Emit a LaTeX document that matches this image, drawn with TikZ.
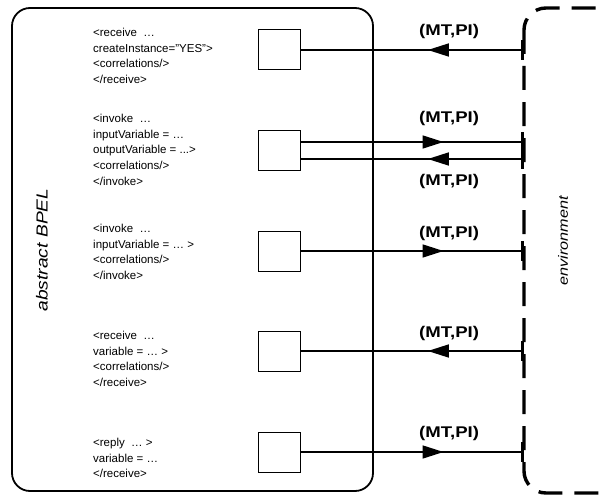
\documentclass[tikz,border=0pt]{standalone}
\usepackage{fontspec}
\setmainfont{Liberation Sans}
\newfontfamily\widefont[FakeStretch=1.2]{Liberation Sans}
\usetikzlibrary{arrows.meta, decorations.markings, positioning}
\newcommand{\codefont}{\fontsize{11.5}{15.75}\selectfont}
\newcommand{\tagfont}{\widefont\bfseries\fontsize{15.5}{16}\selectfont}

\begin{document}
\begin{tikzpicture}[x=1pt, y=-1pt,
    msgtip/.tip={Triangle[length=21pt,width=13pt]},
    codeblock/.style={anchor=north west, inner sep=0pt, align=left, font=\codefont},
    activity/.style={draw, line width=0.8pt, minimum width=42pt, minimum height=40pt, inner sep=0pt},
    msglabel/.style={font=\tagfont, inner sep=0pt},
    msgin/.style={line width=1.6pt, arrows={Bar[width=20pt,line width=3.4pt]-}, postaction={decorate},
      decoration={markings, mark=at position 0.43 with {\arrow{msgtip}}}},
    msgout/.style={line width=1.6pt, arrows={-Bar[width=20pt,line width=3.4pt]}, postaction={decorate},
      decoration={markings, mark=at position 0.64 with {\arrow{msgtip}}}},
    sidelabel/.style={rotate=90, font=\widefont\itshape\fontsize{16}{16}\selectfont}]
  \useasboundingbox (0,0) rectangle (600,495);

  % abstract BPEL process
  \draw[line width=1.8pt, rounded corners=18pt] (12,8) rectangle (373,491);
  \node[sidelabel] (bpel) at (42,250) {abstract BPEL};

  % environment
  \draw[line width=3.4pt, dash pattern=on 24pt off 12pt, rounded corners=22pt] (524,8) rectangle (640,493);
  \node[sidelabel, font=\widefont\itshape\fontsize{13.5}{14}\selectfont] (envtext) at (563,241) {environment};

  % activities
  \node[codeblock] (code1) at (93,27.8) {<receive\ \ …\\createInstance="YES">\\<correlations/>\\</receive>};
  \node[codeblock] (code2) at (93,113.8) {<invoke\ \ …\\inputVariable = …\\outputVariable = ...>\\<correlations/>\\</invoke>};
  \node[codeblock] (code3) at (93,223.8) {<invoke\ \ …\\inputVariable = … >\\<correlations/>\\</invoke>};
  \node[codeblock] (code4) at (93,330.8) {<receive\ \ …\\variable = … >\\<correlations/>\\</receive>};
  \node[codeblock] (code5) at (93,437.8) {<reply\ \ … >\\variable = …\\</receive>};

  \node[activity] (act1) at (279,49.5) {};
  \node[activity] (act2) at (279,150) {};
  \node[activity] (act3) at (279,251.5) {};
  \node[activity] (act4) at (279,351) {};
  \node[activity] (act5) at (279,452) {};

  % message ends at the environment
  \coordinate (env1) at (524,50);
  \coordinate (env2) at (524,142);
  \coordinate (env3) at (524,159);
  \coordinate (env4) at (524,251);
  \coordinate (env5) at (524,351);
  \coordinate (env6) at (524,452);

  % messages
  \draw[msgin] (env1) -- (act1.east |- env1) node[msglabel, pos=0.335, yshift=18.5pt] {(MT,PI)};
  \draw[msgout] (act2.east |- env2) -- (env2) node[msglabel, pos=0.665, yshift=24pt] {(MT,PI)};
  \draw[msgin] (env3) -- (act2.east |- env3) node[msglabel, pos=0.335, yshift=-22.5pt] {(MT,PI)};
  \draw[msgout] (act3.east |- env4) -- (env4) node[msglabel, pos=0.665, yshift=18pt] {(MT,PI)};
  \draw[msgin] (env5) -- (act4.east |- env5) node[msglabel, pos=0.335, yshift=18pt] {(MT,PI)};
  \draw[msgout] (act5.east |- env6) -- (env6) node[msglabel, pos=0.665, yshift=19pt] {(MT,PI)};
\end{tikzpicture}
\end{document}
